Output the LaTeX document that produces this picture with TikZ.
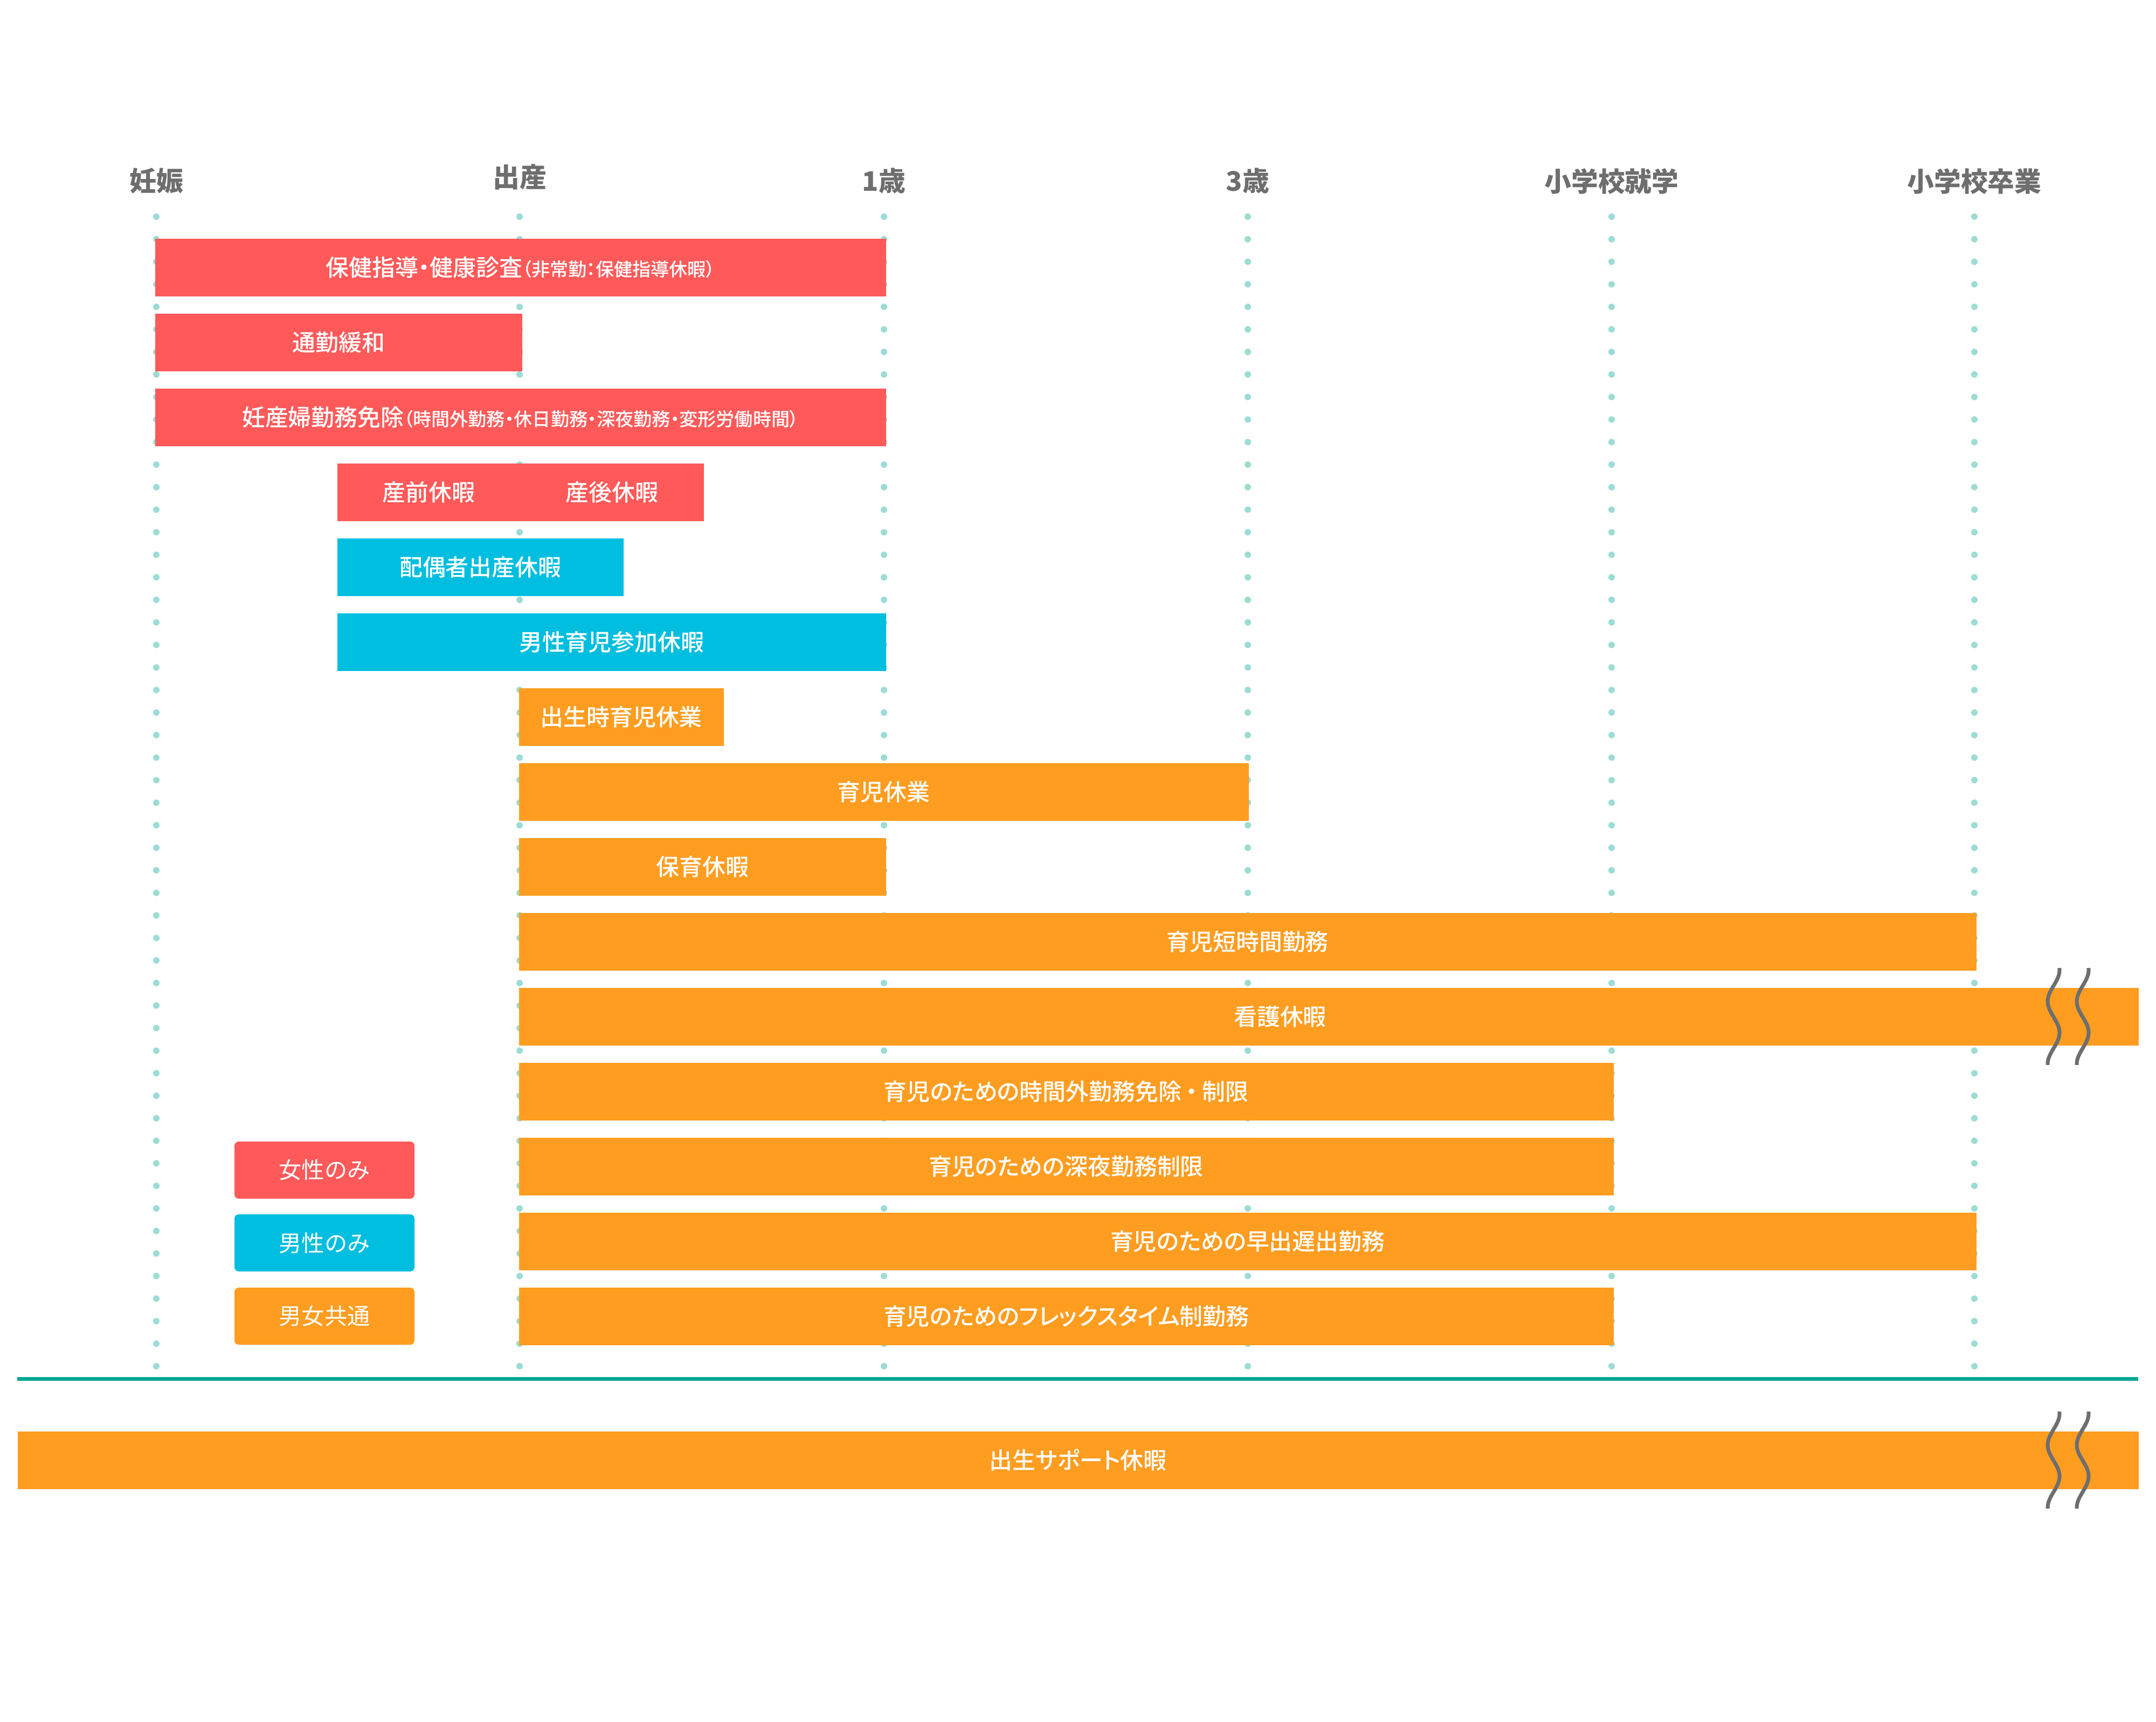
\documentclass[tikz,border=0pt]{standalone}
\usepackage{fontspec}
\setmainfont{Noto Sans CJK JP}[RawFeature=+palt]
\newfontfamily\barfont{Noto Sans CJK JP Medium}[RawFeature=+palt]
\newfontfamily\legendfont{Noto Sans CJK JP}
\usetikzlibrary{positioning}

\definecolor{womanred}{HTML}{FF5959}
\definecolor{manblue}{HTML}{00BEE0}
\definecolor{sharedorange}{HTML}{FF9D21}
\definecolor{guideteal}{HTML}{9CDCD4}
\definecolor{dividergreen}{HTML}{00A693}
\definecolor{labelgray}{HTML}{6E6E6E}

\newcommand{\notesize}{\fontsize{9.7}{11}\selectfont}

\begin{document}
\begin{tikzpicture}[
    x=1cm, y=-1cm,
    yearlabel/.style={inner sep=0pt,text=labelgray,font=\fontsize{14.2}{16}\selectfont\bfseries},
    guide/.style={draw=guideteal,line width=1.2mm,line cap=round,dash pattern=on 0pt off 4.182mm},
    bartext/.style={inner sep=0pt,text=white,font=\barfont\fontsize{12.2}{14}\selectfont},
    bar/.style={bartext,anchor=west,minimum height=10.7mm},
    legendbox/.style={inner sep=0pt,minimum width=33.4mm,minimum height=10.6mm,rounded corners=0.8mm,text=white,font=\legendfont\fontsize{12}{14}\selectfont},
    divider/.style={draw=dividergreen,line width=0.7mm},
    breakline/.style={draw=labelgray,line width=0.7mm},
    wavebreak/.pic={\draw[breakline] plot[domain=-0.9:0.9,samples=60,variable=\t] ({0.11*cos(310*\t-93)},\t);}
    ]

    \useasboundingbox (0,0) rectangle (40,31.95);

    % time axis
    \node (preg) [yearlabel] at (2.90,3.36) {妊娠};
    \node (birth) [yearlabel] at (9.64,3.29) {出産};
    \node (one) [yearlabel] at (16.40,3.36) {1歳};
    \node (three) [yearlabel] at (23.15,3.36) {3歳};
    \node (entry) [yearlabel] at (29.90,3.36) {小学校就学};
    \node (grad) [yearlabel] at (36.63,3.36) {小学校卒業};

    \foreach \name/\x in {preg/2.90,birth/9.64,one/16.40,three/23.15,entry/29.90,grad/36.63}
      \draw[guide] (\x,4.02) coordinate (\name-top) -- (\x,25.36) coordinate (\name-bot);

    % women only
    \node (checkup) [bar,fill=womanred,minimum width=13.56cm] at (2.87,4.96)
      {保健指導・健康診査{\notesize （非常勤：保健指導休暇）}};
    \node (commute) [bar,fill=womanred,minimum width=6.81cm] at (2.87,6.35) {通勤緩和};
    \node (exempt) [bar,fill=womanred,minimum width=13.56cm] at (2.87,7.74)
      {妊産婦勤務免除{\notesize （時間外勤務・休日勤務・深夜勤務・変形労働時間）}};
    \node (prenatal) [bar,fill=womanred,minimum width=3.40cm] at (6.25,9.13) {産前休暇};
    \node (postnatal) [bar,fill=womanred,minimum width=3.41cm] at (9.64,9.13) {産後休暇};

    % men only
    \node (spouse) [bar,fill=manblue,minimum width=5.31cm] at (6.25,10.52) {配偶者出産休暇};
    \node (paternity) [bar,fill=manblue,minimum width=10.18cm] at (6.25,11.91) {男性育児参加休暇};

    % both
    \node (atbirth) [bar,fill=sharedorange,minimum width=3.80cm] at (9.62,13.30) {出生時育児休業};
    \node (childcare) [bar,fill=sharedorange,minimum width=13.54cm] at (9.62,14.69) {育児休業};
    \node (nursing) [bar,fill=sharedorange,minimum width=6.81cm] at (9.62,16.08) {保育休暇};
    \node (shorthours) [bar,fill=sharedorange,minimum width=27.04cm] at (9.62,17.47) {育児短時間勤務};
    \node (sickcare) [bar,fill=sharedorange,minimum width=30.05cm] at (9.62,18.86) {};
    \node (sickcaretext) [bartext] at (23.75,18.86) {看護休暇};
    \node (overtime) [bar,fill=sharedorange,minimum width=20.31cm] at (9.62,20.25)
      {育児のための時間外勤務免除\makebox[0.9em]{・}制限};
    \node (nightwork) [bar,fill=sharedorange,minimum width=20.31cm] at (9.62,21.64) {育児のための深夜勤務制限};
    \node (shift) [bar,fill=sharedorange,minimum width=27.04cm] at (9.62,23.03) {育児のための早出遅出勤務};
    \node (flextime) [bar,fill=sharedorange,minimum width=20.31cm] at (9.62,24.42) {育児のためのフレックスタイム制勤務};

    \pic at (38.10,18.86) {wavebreak};
    \pic at (38.64,18.86) {wavebreak};

    % legend
    \node (womanonly) [legendbox,fill=womanred] at (6.02,21.71) {女性のみ};
    \node (manonly) [legendbox,fill=manblue] at (6.02,23.06) {男性のみ};
    \node (common) [legendbox,fill=sharedorange] at (6.02,24.42) {男女共通};

    \coordinate (divL) at (0.32,25.585);
    \coordinate (divR) at (39.67,25.585);
    \draw[divider] (divL) -- (divR);

    \node (support) [bar,fill=sharedorange,minimum width=39.35cm] at (0.32,27.09) {出生サポート休暇};
    \pic at (38.10,27.09) {wavebreak};
    \pic at (38.64,27.09) {wavebreak};

  \end{tikzpicture}
\end{document}
